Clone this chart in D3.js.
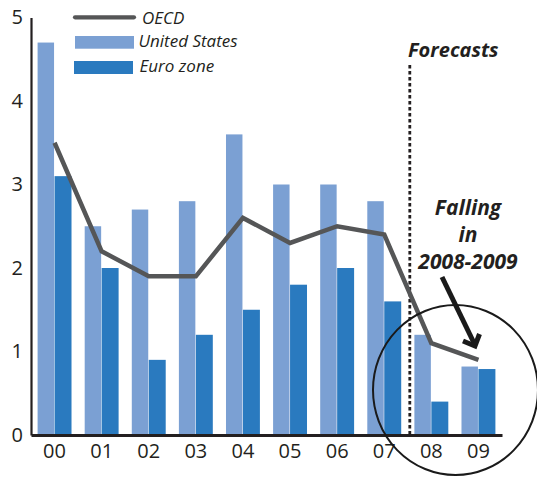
<!DOCTYPE html>
<html>
<head>
<meta charset="utf-8">
<script src="https://cdn.jsdelivr.net/npm/d3@7"></script>
<style>
  html, body { margin: 0; padding: 0; background: #fff; }
  svg { display: block; }
  text { font-family: "Open Sans", "Noto Sans", sans-serif; fill: #231f20; }
</style>
</head>
<body>
<svg id="chart" width="537" height="477"></svg>
<script>
const years = ["00","01","02","03","04","05","06","07","08","09"];
const usValues = [4.7, 2.5, 2.7, 2.8, 3.6, 3.0, 3.0, 2.8, 1.2, 0.82];
const euroValues = [3.1, 2.0, 0.9, 1.2, 1.5, 1.8, 2.0, 1.6, 0.4, 0.79];
const oecdValues = [3.5, 2.2, 1.9, 1.9, 2.6, 2.3, 2.5, 2.4, 1.1, 0.9];
const yTicks = [0, 1, 2, 3, 4, 5];
const seriesNames = ["OECD", "United States", "Euro zone"];
const forecastStart = "08";
const noteLines = ["Falling", "in", "2008-2009"];
const forecastLabel = "Forecasts";

const colUS = "#7ba0d3";
const colEuro = "#2a7abf";
const colLine = "#555657";
const colInk = "#231f20";

const svg = d3.select("#chart");

const x = d3.scaleBand().domain(years).range([31, 502]).paddingInner(0.28).paddingOuter(0.14);
const xs = d3.scaleBand().domain(["us", "euro"]).range([0, x.bandwidth()]);
const y = d3.scaleLinear().domain([0, 5]).range([435, 17.5]);

// bars
const rows = years.map((yr, i) => ({ yr, us: usValues[i], euro: euroValues[i], oecd: oecdValues[i] }));
const g = svg.append("g");
g.selectAll("rect.us").data(rows).enter().append("rect")
  .attr("class", "us")
  .attr("x", d => x(d.yr) + xs("us"))
  .attr("width", xs.bandwidth() - 0.5)
  .attr("y", d => y(d.us))
  .attr("height", d => y(0) - y(d.us))
  .attr("fill", colUS);
g.selectAll("rect.euro").data(rows).enter().append("rect")
  .attr("class", "euro")
  .attr("x", d => x(d.yr) + xs("euro"))
  .attr("width", xs.bandwidth())
  .attr("y", d => y(d.euro))
  .attr("height", d => y(0) - y(d.euro))
  .attr("fill", colEuro);

// forecast dashed line
const fx = (x(years[years.indexOf(forecastStart) - 1]) + x.bandwidth() + x(forecastStart)) / 2 + 2;
svg.append("line")
  .attr("x1", fx).attr("x2", fx)
  .attr("y1", 65).attr("y2", y(0))
  .attr("stroke", colInk).attr("stroke-width", 2.8)
  .attr("stroke-dasharray", "3.5,2.5");

// OECD line
const line = d3.line()
  .x(d => x(d.yr) + x.bandwidth() / 2)
  .y(d => y(d.oecd));
svg.append("path")
  .datum(rows)
  .attr("d", line)
  .attr("fill", "none")
  .attr("stroke", colLine)
  .attr("stroke-width", 4.5)
  .attr("stroke-linejoin", "miter");

// axes
const yAxis = d3.axisLeft(y).tickValues(yTicks).tickSize(0).tickSizeOuter(0).tickPadding(8).tickFormat(d3.format("d"));
const ya = svg.append("g").attr("transform", "translate(31,0)").call(yAxis);
ya.select(".domain").attr("stroke", colInk).attr("stroke-width", 2.2);
ya.selectAll("text").style("font-size", "20px").attr("fill", colInk).style("font-family", "'Open Sans', sans-serif");

const xAxis = d3.axisBottom(x).tickSize(0).tickSizeOuter(0).tickPadding(9);
const xa = svg.append("g").attr("transform", `translate(0,${y(0)})`).call(xAxis);
xa.select(".domain").attr("stroke", colInk).attr("stroke-width", 3);
xa.selectAll("text").style("font-size", "20px").attr("fill", colInk).style("font-family", "'Open Sans', sans-serif");

// legend
const lg = svg.append("g");
lg.append("line").attr("x1", 75).attr("x2", 134).attr("y1", 17.3).attr("y2", 17.3)
  .attr("stroke", colLine).attr("stroke-width", 4.2).attr("stroke-linecap", "round");
lg.append("rect").attr("x", 75).attr("y", 36).attr("width", 59).attr("height", 12.7).attr("fill", colUS);
lg.append("rect").attr("x", 74).attr("y", 61).attr("width", 59).attr("height", 13).attr("fill", colEuro);
const legPos = [[142, 24], [138.5, 46.5], [139.5, 71.5]];
seriesNames.forEach((n, i) => {
  lg.append("text").attr("x", legPos[i][0]).attr("y", legPos[i][1])
    .style("font-size", "17px").style("font-style", "italic").text(n);
});

// annotations
svg.append("text").attr("x", 408).attr("y", 57)
  .style("font-size", "20px").style("font-weight", "bold").style("font-style", "italic")
  .text(forecastLabel);
noteLines.forEach((t, i) => {
  svg.append("text").attr("x", 468).attr("y", 215 + i * 27)
    .attr("text-anchor", "middle")
    .style("font-size", "21px").style("font-weight", "bold").style("font-style", "italic")
    .text(t);
});

// arrow
svg.append("line").attr("x1", 442).attr("y1", 277).attr("x2", 474).attr("y2", 343)
  .attr("stroke", "#1a1a1a").attr("stroke-width", 5);
svg.append("polyline").attr("points", "463,341 475,346 479.5,334")
  .attr("fill", "none").attr("stroke", "#1a1a1a").attr("stroke-width", 5)
  .attr("stroke-linejoin", "miter");

// circle
svg.append("ellipse").attr("cx", 455.5).attr("cy", 390).attr("rx", 82.5).attr("ry", 85)
  .attr("fill", "none").attr("stroke", "#1a1a1a").attr("stroke-width", 2);
</script>
</body>
</html>
